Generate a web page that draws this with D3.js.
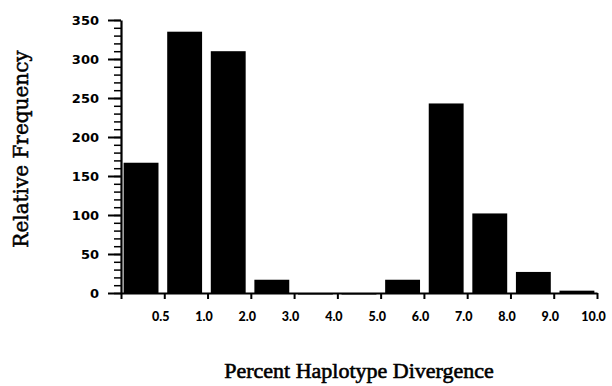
<!DOCTYPE html>
<html>
<head>
<meta charset="utf-8">
<script src="https://cdn.jsdelivr.net/npm/d3@7"></script>
<style>
  body { margin: 0; background: #fff; }
</style>
</head>
<body>
<svg id="chart" width="612" height="386"></svg>
<script>
// bin edges along the x axis (first edge is unlabeled)
const edges = ["0", "0.5", "1.0", "2.0", "3.0", "4.0", "5.0", "6.0", "7.0", "8.0", "9.0", "10.0"];
// one bar per bin between consecutive edges
const bins = ["0-0.5", "0.5-1.0", "1.0-2.0", "2.0-3.0", "3.0-4.0", "4.0-5.0",
              "5.0-6.0", "6.0-7.0", "7.0-8.0", "8.0-9.0", "9.0-10.0"];
const freq = [167, 335, 310, 17, 0, 0, 17, 243, 102, 27, 3];
const yTicks = [0, 50, 100, 150, 200, 250, 300, 350];

const svg = d3.select("#chart");
const x0 = 121, x1 = 597, y0 = 293, y1 = 20;

const edgeScale = d3.scalePoint().domain(edges).range([x0, x1]);
const x = d3.scaleBand().domain(bins).range([x0, x1])
  .paddingInner(0.2).paddingOuter(0.06);
const y = d3.scaleLinear().domain([0, 350]).range([y0, y1]);

// bars
svg.append("g").selectAll("rect")
  .data(freq)
  .join("rect")
  .attr("x", (d, i) => x(bins[i]))
  .attr("width", x.bandwidth())
  .attr("y", d => y(d))
  .attr("height", d => Math.max(y0 - y(d), 1.5))
  .attr("fill", "#000");

// y axis, minor ticks every 10
svg.append("g")
  .attr("transform", `translate(${x0},0)`)
  .call(d3.axisLeft(y).tickValues(d3.range(0, 351, 10)).tickSize(7).tickFormat(""))
  .call(g => g.select(".domain").remove())
  .selectAll("line").attr("stroke", "#000").attr("stroke-width", 1.5);

// y axis, major ticks
svg.append("g")
  .attr("transform", `translate(${x0},0)`)
  .call(d3.axisLeft(y).tickValues(yTicks).tickSize(13).tickPadding(9).tickSizeOuter(0))
  .call(g => g.select(".domain").attr("stroke-width", 2.2))
  .call(g => g.selectAll("line").attr("stroke-width", 2))
  .call(g => g.selectAll("text")
    .attr("font-family", "DejaVu Sans, sans-serif").attr("font-weight", "bold")
    .attr("font-size", 13).attr("fill", "#000"));

// x axis with ticks on bin edges
svg.append("g")
  .attr("transform", `translate(0,${y0})`)
  .call(d3.axisBottom(edgeScale).tickSize(6).tickPadding(13).tickSizeOuter(0)
    .tickFormat(d => d === "0" ? "" : d))
  .call(g => g.select(".domain").attr("stroke-width", 2.2))
  .call(g => g.selectAll("line").attr("stroke-width", 2))
  .call(g => g.selectAll("text")
    .attr("font-family", "Lato, sans-serif").attr("font-weight", 900)
    .attr("font-size", 12.5).attr("fill", "#000").attr("dx", -4));

// axis titles
svg.append("text")
  .attr("transform", "translate(28,149) rotate(-90)")
  .attr("text-anchor", "middle")
  .attr("font-family", "DejaVu Serif, serif")
  .attr("font-size", 20)
  .attr("stroke", "#000").attr("stroke-width", 0.5)
  .text("Relative Frequency");

svg.append("text")
  .attr("x", 359)
  .attr("y", 378)
  .attr("text-anchor", "middle")
  .attr("font-family", "Liberation Serif, serif")
  .attr("font-size", 22)
  .attr("stroke", "#000").attr("stroke-width", 0.6)
  .text("Percent Haplotype Divergence");
</script>
</body>
</html>
